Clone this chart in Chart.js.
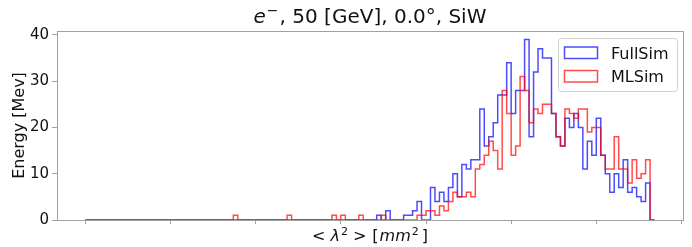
<!DOCTYPE html>
<html lang="en">
<head>
<meta charset="UTF-8" />
<title>Histogram</title>
<script src="https://cdn.jsdelivr.net/npm/chart.js@4.4.1/dist/chart.umd.min.js"></script>
<style>
  html, body { margin: 0; padding: 0; background: #fff; }
  canvas { display: block; }
</style>
</head>
<body>
<canvas id="myChart" width="692" height="247"></canvas>
<script>
// counts per bin (127 equal bins, bin index used as x)
const fullSim = [
  0, 0, 0, 0, 0, 0, 0, 0, 0, 0,
  0, 0, 0, 0, 0, 0, 0, 0, 0, 0,
  0, 0, 0, 0, 0, 0, 0, 0, 0, 0,
  0, 0, 0, 0, 0, 0, 0, 0, 0, 0,
  0, 0, 0, 0, 0, 0, 0, 0, 0, 0,
  0, 0, 0, 0, 0, 0, 0, 0, 0, 0,
  0, 0, 0, 0, 0, 0, 1, 0, 2, 0,
  0, 0, 1, 1, 2, 4, 0, 0, 7, 4,
  6, 4, 7, 10, 5, 12, 11, 13, 13, 24,
  16, 18, 21, 27, 27, 34, 23, 28, 28, 39,
  18, 32, 37, 35, 35, 23, 18, 16, 22, 20,
  23, 20, 11, 17, 14, 22, 14, 10, 6, 10,
  7, 13, 6, 7, 5, 4, 8
];
const mlSim = [
  0, 0, 0, 0, 0, 0, 0, 0, 0, 0,
  0, 0, 0, 0, 0, 0, 0, 0, 0, 0,
  0, 0, 0, 0, 0, 0, 0, 0, 0, 0,
  0, 0, 0, 0, 1, 0, 0, 0, 0, 0,
  0, 0, 0, 0, 0, 0, 1, 0, 0, 0,
  0, 0, 0, 0, 0, 0, 1, 0, 1, 0,
  0, 0, 1, 0, 0, 0, 0, 1, 0, 0,
  0, 0, 0, 0, 0, 1, 1, 2, 2, 1,
  3, 2, 4, 6, 5, 5, 6, 5, 11, 12,
  14, 17, 15, 11, 28, 23, 14, 16, 31, 28,
  21, 24, 23, 25, 25, 23, 18, 16, 24, 23,
  22, 24, 24, 19, 20, 20, 14, 11, 11, 18,
  11, 11, 8, 13, 9, 10, 13
];
const seriesNames = ["FullSim", "MLSim"];
const seriesColors = ["rgba(0, 0, 255, 0.7)", "rgba(255, 0, 0, 0.7)"];
const yTicks = [0, 10, 20, 30, 40];
const xTicks = [0, 19, 38, 57, 76, 95, 114, 133]; // unlabeled tick marks

const nBins = fullSim.length;
const frameColor = "#a0a0a0";
const font = "DejaVu Sans";

// outline of a step histogram: up from 0, across each bin, back down to 0
function stepPoints(counts) {
  const pts = [{ x: 0, y: 0 }];
  counts.forEach((v, i) => pts.push({ x: i, y: v }));
  pts.push({ x: counts.length, y: 0 });
  return pts;
}

// draw a row of text pieces centred on cx
function drawRuns(ctx, runs, cx, y) {
  let total = 0;
  runs.forEach((r) => {
    ctx.font = r.font;
    r.w = ctx.measureText(r.t).width;
    total += r.w + (r.gap || 0);
  });
  let x = cx - total / 2;
  ctx.textAlign = "left";
  ctx.textBaseline = "alphabetic";
  runs.forEach((r) => {
    ctx.font = r.font;
    ctx.fillText(r.t, x, y + (r.dy || 0));
    x += r.w + (r.gap || 0);
  });
}

const textPlugin = {
  id: "texts",
  afterDraw(chart) {
    const { ctx, chartArea: a } = chart;
    ctx.save();
    // top and right spines
    ctx.strokeStyle = frameColor;
    ctx.lineWidth = 1;
    ctx.beginPath();
    ctx.moveTo(a.left, a.top + 0.5);
    ctx.lineTo(a.right + 0.5, a.top + 0.5);
    ctx.lineTo(a.right + 0.5, a.bottom);
    ctx.stroke();

    ctx.fillStyle = "#111";
    const cx = (a.left + a.right) / 2;
    // title
    drawRuns(ctx, [
      { t: "e", font: `italic 20px "${font}"`, gap: 1 },
      { t: "\u2212", font: `14px "${font}"`, dy: -8, gap: 1 },
      { t: ", 50 [GeV], 0.0\u00b0, SiW", font: `20px "${font}"` },
    ], cx, 23);

    // x label
    const up = `16px "${font}"`, it = `italic 16px "${font}"`, sup = `11px "${font}"`;
    drawRuns(ctx, [
      { t: "<", font: up, gap: 5 },
      { t: "\u03bb", font: it, gap: 1 },
      { t: "2", font: sup, dy: -6, gap: 5 },
      { t: ">", font: up, gap: 6 },
      { t: "[", font: up, gap: 1 },
      { t: "mm", font: it, gap: 1 },
      { t: "2", font: sup, dy: -6, gap: 3 },
      { t: "]", font: up },
    ], cx, 241);

    // y label
    ctx.save();
    ctx.translate(24, (a.top + a.bottom) / 2);
    ctx.rotate(-Math.PI / 2);
    ctx.font = `16px "${font}"`;
    ctx.textAlign = "center";
    ctx.textBaseline = "alphabetic";
    ctx.fillText("Energy [Mev]", 0, 0);
    ctx.restore();

    // legend
    const lx = 558.5, ly = 38.5, lw = 119, lh = 53;
    ctx.fillStyle = "rgba(255,255,255,0.8)";
    ctx.strokeStyle = "#d0d0d0";
    ctx.lineWidth = 1;
    ctx.beginPath();
    ctx.roundRect(lx, ly, lw, lh, 3);
    ctx.fill();
    ctx.stroke();
    seriesNames.forEach((name, i) => {
      const top = 47 + i * 23.5;
      ctx.strokeStyle = seriesColors[i];
      ctx.lineWidth = 1.5;
      ctx.strokeRect(564.5, top, 33, 11.5);
      ctx.fillStyle = "#111";
      ctx.font = `16px "${font}"`;
      ctx.textAlign = "left";
      ctx.textBaseline = "alphabetic";
      ctx.fillText(name, 611, top + 11.5);
    });
    ctx.restore();
  },
};

const ctx = document.getElementById("myChart").getContext("2d");

new Chart(ctx, {
  type: "line",
  data: {
    datasets: [
      {
        label: seriesNames[0],
        data: stepPoints(fullSim),
        borderColor: seriesColors[0],
        borderWidth: 1.5,
        stepped: "after",
        pointRadius: 0,
        fill: false,
        order: 1,
      },
      {
        label: seriesNames[1],
        data: stepPoints(mlSim),
        borderColor: seriesColors[1],
        borderWidth: 1.5,
        stepped: "after",
        pointRadius: 0,
        fill: false,
        order: 0,
      },
    ],
  },
  options: {
    responsive: false,
    animation: false,
    devicePixelRatio: 1,
    layout: { padding: { top: 31, right: 9, left: 0, bottom: 0 } },
    plugins: {
      legend: { display: false },
      title: { display: false },
      tooltip: { enabled: false },
    },
    scales: {
      x: {
        type: "linear",
        min: -0.05 * nBins,
        max: nBins * 1.05,
        afterBuildTicks: (s) => { s.ticks = xTicks.map((v) => ({ value: v })); },
        afterFit: (s) => { s.height = 27; },
        ticks: { display: false },
        grid: { drawOnChartArea: false, tickLength: 4, color: frameColor },
        border: { color: frameColor },
      },
      y: {
        min: 0,
        max: 40.85,
        afterBuildTicks: (s) => { s.ticks = yTicks.map((v) => ({ value: v })); },
        afterFit: (s) => { s.width = 57; },
        ticks: { padding: 3, color: "#111", font: { family: font, size: 15 } },
        grid: { drawOnChartArea: false, tickLength: 5, color: frameColor },
        border: { color: frameColor },
      },
    },
  },
  plugins: [textPlugin],
});
</script>
</body>
</html>
